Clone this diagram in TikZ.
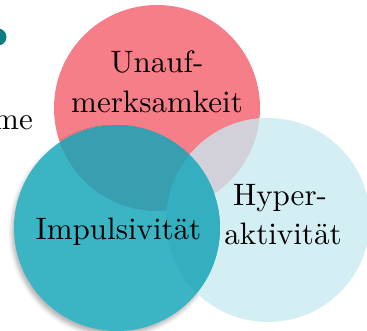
\documentclass[tikz,border=0pt]{standalone}
\usepackage{fontspec}
\setmainfont{lmroman10-regular.otf}
\usetikzlibrary{shadows.blur}
\definecolor{cred}{HTML}{F57E88}
\definecolor{ccyan}{HTML}{D3EFF4}
\definecolor{cteal}{HTML}{3BB5C4}
\definecolor{credcyan}{HTML}{D2D0D8}
\definecolor{credteal}{HTML}{389FB0}
\definecolor{ctealcyan}{HTML}{33AFC0}
\definecolor{cdot}{HTML}{0E7C86}
\tikzset{
  venn/.style={circle, minimum size=#1, inner sep=0pt, outer sep=0pt, draw=none},
  lbl/.style={font=\fontsize{31}{39}\selectfont, align=center, inner sep=0pt, text=black},
  tealshadow/.style={blur shadow={shadow xshift=-2pt, shadow yshift=-4pt, shadow blur radius=4pt, shadow opacity=30}}
}
\begin{document}
\begin{tikzpicture}[x=1pt,y=-1pt]
\useasboundingbox (0,0) rectangle (367,331);
\node[venn=206pt, fill=cred] (red) at (157,108) {};
\path[tealshadow] (117,228) circle[radius=103pt];
\node[venn=204pt, fill=ccyan] (cyan) at (268,220) {};
\begin{scope}
  \clip (157,108) circle[radius=103pt];
  \fill[credcyan] (268,220) circle[radius=102pt];
\end{scope}
\node[venn=206pt, fill=cteal] (teal) at (117,228) {};
\begin{scope}
  \clip (117,228) circle[radius=103pt];
  \fill[credteal] (157,108) circle[radius=103pt];
  \fill[ctealcyan] (268,220) circle[radius=102pt];
\end{scope}
\node[circle, fill=cdot, minimum size=17pt, inner sep=0pt] (dot) at (-2,37) {};
\node[lbl, anchor=base east] (me) at (33,129.5) {me};
\node[lbl, anchor=base] (u1) at (157,72.5) {Unauf-};
\node[lbl, anchor=base] (u2) at (157,112.5) {merksamkeit};
\node[lbl, anchor=base] (imp) at (118.5,239.5) {Impulsivität};
\node[lbl, anchor=base] (h1) at (280,206) {Hyper-};
\node[lbl, anchor=base] (h2) at (283,244.5) {aktivität};
\end{tikzpicture}
\end{document}
